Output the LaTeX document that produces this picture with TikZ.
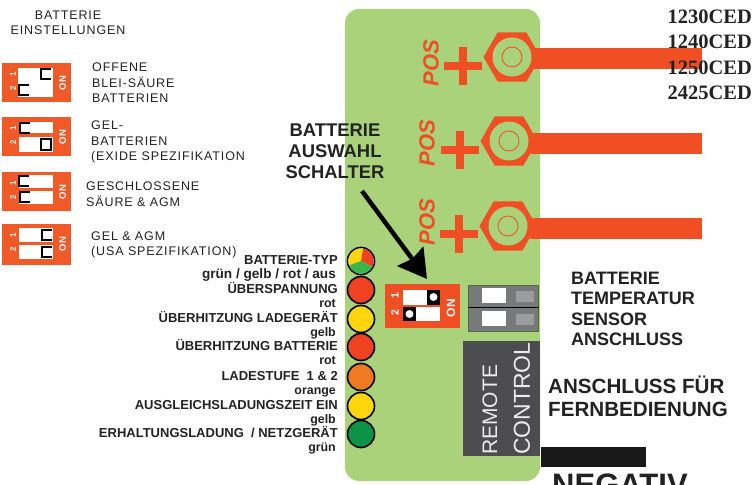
\documentclass[tikz,border=0pt]{standalone}
\usepackage{fontspec}
\usepackage{xcolor}
\usetikzlibrary{shapes.geometric,arrows.meta}
\setmainfont{Liberation Sans}
\newfontfamily\spacedfont[LetterSpace=7]{Liberation Sans}
\newfontfamily\modelfont{Liberation Serif}
\definecolor{boardgreen}{HTML}{AAD27B}
\definecolor{wireorange}{HTML}{F04E23}
\definecolor{dipbody}{HTML}{EF5A28}
\definecolor{ledred}{HTML}{EE4223}
\definecolor{ledyellow}{HTML}{FFD60E}
\definecolor{ledorange}{HTML}{EF7A22}
\definecolor{ledgreen}{HTML}{0B9447}
\definecolor{ledlime}{HTML}{3BB54A}
\definecolor{textdark}{HTML}{222222}
\definecolor{portgray}{HTML}{77797A}
\definecolor{remotegray}{HTML}{4D4D4F}
\newcommand{\fsz}[1]{\fontsize{#1}{#1}\selectfont}

\begin{document}
\begin{tikzpicture}[
        x=1pt, y=-1pt,
        nut/.style={regular polygon, regular polygon sides=6, fill=wireorange, minimum size=57pt, inner sep=0pt},
        nutface/.style={circle, fill=boardgreen, minimum size=39pt, inner sep=0pt},
        ring/.style={circle, draw=wireorange, line width=0.8pt, minimum size=20pt, inner sep=0pt},
        wire/.style={wireorange, line width=21pt, shorten <=-7pt},
        led/.style={circle, draw=black, line width=1.6pt, minimum size=27pt, inner sep=0pt},
        ledtitle/.style={anchor=east, inner sep=0pt, text height=9pt, text depth=0pt, text=textdark, font=\bfseries\fsz{13}},
        ledsub/.style={anchor=east, inner sep=0pt, text height=9pt, text depth=0pt, text=textdark, font=\bfseries\fsz{12.4}},
        dipnote/.style={anchor=west, inner sep=0pt, align=left, text=textdark, font=\spacedfont\fontsize{12.5}{15.5}\selectfont},
        headline/.style={anchor=west, inner sep=0pt, align=left, text=textdark, font=\bfseries\fontsize{18}{20.3}\selectfont},
        digit/.style={inner sep=0pt, rotate=90, text=white, font=\bfseries\fsz{8}},
        >=stealth
    ]
        \clip (0,0) rectangle (754,484);

        % Board
        \node[fill=boardgreen, rounded corners=14pt, minimum width=195pt, minimum height=472pt, inner sep=0pt] (board) at (442.5,245) {};

        % Terminals
        \foreach \i/\nx/\ny/\wy in {1/512/57/59, 2/509/141/143.5, 3/508/226/228}
            {
            \node[nut] (nut-\i) at (\nx,\ny) {};
            \node[nutface] (face-\i) at (\nx,\ny) {};
            \node[ring] (ring-\i) at (\nx,\ny) {};
            \coordinate (wireend-\i) at (702,\wy);
            \draw[wire] (nut-\i.east |- wireend-\i) -- (wireend-\i);
            }

        % Plus signs and POS
        \foreach \i/\px/\py/\tx/\ty in {1/463/66/431/63, 2/460/150/427/143, 3/459/234/427/222}
            {
            \node[inner sep=0pt, rotate=90, text=wireorange, font=\bfseries\itshape\fsz{22}] (pos-\i) at (\tx,\ty) {POS};
            \draw[wireorange, line width=7.5pt] (\px-19,\py) -- (\px+19,\py);
            \draw[wireorange, line width=7.5pt] (\px,\py-19) -- (\px,\py+19);
            }

        % Model numbers
        \foreach \i/\y/\model in {1/17/1230CED, 2/42/1240CED, 3/68/1250CED, 4/93/2425CED}
            \node[anchor=east, inner sep=0pt, text=textdark, font=\modelfont\bfseries\fsz{20.5}] (model-\i) at (752,\y) {\model};

        % Settings heading
        \node[inner sep=0pt, align=center, text=textdark, font=\spacedfont\fontsize{12.5}{14.5}\selectfont] (settings) at (68,23) {BATTERIE\\EINSTELLUNGEN};

        % Small switches
        \foreach \i/\y/\h in {1/63/39, 2/117/39, 3/172/39, 4/224/41}
            {
            \node[anchor=north west, fill=dipbody, minimum width=69pt, minimum height=\h pt, inner sep=0pt] (dip-\i) at (2,\y) {};
            \node[digit] (one-\i) at (13,\y+11) {1};
            \node[digit] (two-\i) at (13,\y+25) {2};
            \node[digit, font=\bfseries\fsz{9.5}] (on-\i) at (62.5,\y+20) {ON};
            }
        \fill[white] (18,68) rectangle (53,97);
        \foreach \ya/\yb in {122/133, 137/152, 175/188, 191/204, 228/242, 245/259}
            \fill[white] (19,\ya) rectangle (53,\yb);
        \foreach \kx/\ky in {41/69, 19/85, 20/123, 19/176, 20/192, 42/230, 42/247}
            \draw[black, line width=2pt] (\kx+10,\ky) -- (\kx,\ky) -- (\kx,\ky+10) -- (\kx+10,\ky+10);
        \draw[black, line width=2pt, fill=white] (41,139) rectangle (51,150);

        % Small switch notes
        \node[dipnote] (note-1) at (92,83) {OFFENE\\BLEI-SÄURE\\BATTERIEN};
        \node[dipnote] (note-2) at (91,142) {GEL-\\BATTERIEN\\(EXIDE SPEZIFIKATION};
        \node[dipnote] (note-3) at (86,194) {GESCHLOSSENE\\SÄURE \& AGM};
        \node[dipnote] (note-4) at (91,245) {GEL \& AGM\\(USA SPEZIFIKATION)};

        % Selector switch
        \node[anchor=north west, fill=wireorange, minimum width=75pt, minimum height=44pt, inner sep=0pt] (selector) at (385,284) {};
        \fill[white] (403,290) rectangle (440,304.5);
        \fill[white] (403,307) rectangle (440,321);
        \fill[black] (427,290) rectangle (440,304.5);
        \fill[black] (403,307) rectangle (416,321);
        \node[circle, fill=white, minimum size=8pt, inner sep=0pt] (knob-1) at (433.5,297) {};
        \node[circle, fill=white, minimum size=8pt, inner sep=0pt] (knob-2) at (409.5,314) {};
        \node[digit, font=\bfseries\fsz{10.5}] (one) at (395,296) {1};
        \node[digit, font=\bfseries\fsz{10.5}] (two) at (395,313) {2};
        \node[digit, font=\bfseries\fsz{12}] (on) at (451,308) {ON};

        % Selector label and arrow
        \node[inner sep=0pt, align=center, text=textdark, font=\bfseries\fontsize{18.4}{21}\selectfont] (auswahl) at (335,151) {BATTERIE\\AUSWAHL\\SCHALTER};
        \coordinate (arrowstart) at (362,191);
        \coordinate (arrowend) at (427,279);
        \draw[-{Stealth[length=28pt, width=32pt, inset=3pt]}, black, line width=4.5pt] (arrowstart) -- (arrowend);

        % Sensor port
        \node[anchor=north west, fill=portgray, draw=black!50!boardgreen, line width=0.5pt, minimum width=70pt, minimum height=46pt, inner sep=0pt] (sensor) at (468,285) {};
        \draw[black, line width=1.6pt] (sensor.west |- 0,307.5) -- (sensor.east |- 0,307.5);
        \foreach \y in {288, 311}
            {
            \fill[white] (482,\y) rectangle (506,\y+15);
            \fill[black!30!gray!60!white] (516,\y+3) rectangle (534,\y+13.5);
            }
        \node[headline] (sensortext) at (571,309) {BATTERIE\\TEMPERATUR\\SENSOR\\ANSCHLUSS};

        % Remote control port
        \node[anchor=north west, fill=remotegray, minimum width=77pt, minimum height=115pt, inner sep=0pt] (remote) at (463,341) {};
        \node[anchor=west, inner sep=0pt, rotate=90, text=white!92!black, font=\fsz{21}] (remote-1) at (490,455) {REMOTE};
        \node[anchor=west, inner sep=0pt, rotate=90, text=white!92!black, font=\fsz{23}] (remote-2) at (522,455) {CONTROL};
        \node[headline, font=\bfseries\fontsize{20.6}{23}\selectfont] (remotetext) at (548,396.5) {ANSCHLUSS FÜR\\FERNBEDIENUNG};

        % Negative terminal
        \node[anchor=north west, fill=black!90, minimum width=105pt, minimum height=20pt, inner sep=0pt] (negbar) at (541,447) {};
        \node[anchor=base west, inner sep=0pt, text=textdark, font=\bfseries\fsz{31}] (negtext) at (552,495) {NEGATIV};

        % LEDs
        \foreach \i/\y/\col/\name/\sub in {
            1/261/white/BATTERIE-TYP/{\fsz{13.6}grün / gelb / rot / aus},
            2/290/ledred/ÜBERSPANNUNG/rot,
            3/319/ledyellow/ÜBERHITZUNG LADEGERÄT/gelb,
            4/347/ledred/ÜBERHITZUNG BATTERIE/rot,
            5/377/ledorange/{LADESTUFE\ \ 1 \& 2}/orange,
            6/406/ledyellow/AUSGLEICHSLADUNGSZEIT EIN/gelb,
            7/434/ledgreen/{ERHALTUNGSLADUNG\ \ / NETZGERÄT}/grün}
            {
            \node[led, fill=\col] (led-\i) at (361,\y) {};
            \node[ledtitle] (title-\i) at (338,\y-1.5) {\name};
            \node[ledsub] (sub-\i) at (336,\y+12.5) {\sub};
            }

        % Three colour LED
        \fill[ledyellow] (led-1.center) -- ++(80:12.7pt) arc[start angle=80, end angle=200, radius=12.7pt] -- cycle;
        \fill[ledred] (led-1.center) -- ++(-27:12.7pt) arc[start angle=-27, end angle=80, radius=12.7pt] -- cycle;
        \fill[ledlime] (led-1.center) -- ++(200:12.7pt) arc[start angle=200, end angle=333, radius=12.7pt] -- cycle;
    \end{tikzpicture}
\end{document}
